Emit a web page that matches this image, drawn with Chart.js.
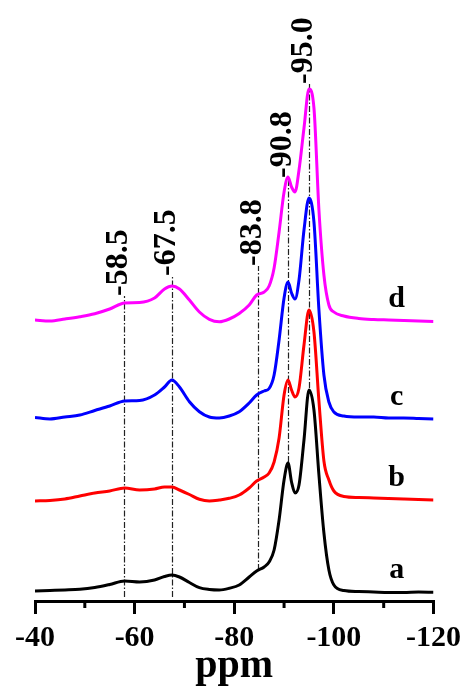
<!DOCTYPE html>
<html>
<head>
<meta charset="utf-8">
<script src="https://cdn.jsdelivr.net/npm/chart.js@4/dist/chart.umd.min.js"></script>
<style>
html, body { margin: 0; padding: 0; background: #fff; }
</style>
</head>
<body>
<canvas id="chart" width="467" height="687"></canvas>
<script>
// chemical shift grid (ppm), shared by all four spectra
const ppm = [-40, -43, -46, -49, -52, -55, -58, -61, -64,
    -66, -67.5, -69, -71, -73, -75, -77, -79, -81, -83,
    -84.5, -86, -87, -88, -89, -90, -90.8, -91.5, -92.2, -93,
    -94, -95, -96, -97, -98, -99, -100,
    -102, -105, -108, -111, -114, -117, -120];

// stacked intensities (arbitrary units, offsets already included)
const specA = [10, 10.5, 11, 11.7, 13.5, 16.5, 20, 19, 21,
    24.5, 26, 24, 18.5, 13.3, 11.5, 11, 12.7, 16, 24,
    30, 34, 39, 51, 81, 121, 138, 119, 108, 116,
    161, 211, 191, 126, 68, 31, 16,
    10.5, 9.5, 9, 8.5, 8.5, 9, 8.7];
const specB = [100, 100.5, 102, 105, 108, 110, 113, 111, 112,
    114, 114, 111, 106.5, 101.7, 100, 101, 102.7, 106, 113,
    120, 124, 128, 139, 163, 206, 221, 211, 204, 213,
    256, 291, 269, 200, 140, 121, 110,
    104.5, 103.5, 103, 102.5, 102, 101.5, 101];
const specC = [183.5, 182, 184, 186, 190.5, 195, 200, 200.5, 206,
    214, 221, 214, 199.3, 189.3, 184, 183, 185, 189.3, 198,
    206, 210, 212.5, 226, 261, 303, 319, 308, 302, 321,
    371, 403, 379, 291, 226, 199, 189,
    185, 184, 184, 183, 183, 182.5, 182];
const specD = [281, 280, 282, 284.3, 287.3, 292, 298, 298.5, 303,
    312, 315, 312, 301, 289, 281.7, 279.3, 282, 287.5, 296,
    306, 309, 315, 333, 369, 409, 424, 414, 409, 431,
    473, 512, 493, 391, 326, 296, 289,
    285, 282.5, 281.5, 281, 280.5, 280, 279.5];

const seriesNames = ['a', 'b', 'c', 'd'];
const seriesColors = ['#000000', '#ff0000', '#0000ff', '#ff00ff'];
const seriesData = [specA, specB, specC, specD];

// assigned peaks: where the guide line sits, its text, and its vertical extent
const peakPos = [-57.9, -67.5, -84.8, -90.8, -95.0];
const peakText = ['-58.5', '-67.5', '-83.8', '-90.8', '-95.0'];
const peakLineFrom = [4, 4, 31, 139, 213];
const peakLineTo = [305, 325, 335, 423, 517];

const minorTicks = [-50, -70, -90, -110];

const serif = '"Liberation Serif", "Times New Roman", serif';

const peakMarks = {
    id: 'peakMarks',
    beforeDatasetsDraw(chart) {
        const {ctx, scales: {x, y}} = chart;
        ctx.save();
        ctx.strokeStyle = '#222';
        ctx.lineWidth = 1.2;
        ctx.setLineDash([6, 2, 1.5, 2]);
        peakPos.forEach((p, i) => {
            const px = Math.round(x.getPixelForValue(p)) + 0.5;
            ctx.beginPath();
            ctx.moveTo(px, y.getPixelForValue(peakLineFrom[i]));
            ctx.lineTo(px, y.getPixelForValue(peakLineTo[i]));
            ctx.stroke();
        });
        ctx.restore();
    },
    afterDatasetsDraw(chart) {
        const {ctx, scales: {x, y}} = chart;
        ctx.save();
        ctx.fillStyle = '#000';
        ctx.font = 'bold 32px ' + serif;
        ctx.textAlign = 'left';
        ctx.textBaseline = 'middle';
        peakPos.forEach((p, i) => {
            ctx.save();
            ctx.translate(x.getPixelForValue(p) - 5, y.getPixelForValue(peakLineTo[i]));
            ctx.rotate(-Math.PI / 2);
            ctx.fillText(peakText[i], 0, 0);
            ctx.restore();
        });
        // series letters at the right end of each trace
        ctx.font = 'bold 30px ' + serif;
        ctx.textAlign = 'center';
        seriesData.forEach((d, i) => {
            const last = d[d.length - 1];
            ctx.fillText(seriesNames[i], x.getPixelForValue(-112.6), y.getPixelForValue(last) - 22);
        });
        ctx.restore();
    },
    afterDraw(chart) {
        const {ctx, scales: {x}} = chart;
        ctx.save();
        ctx.strokeStyle = '#000';
        ctx.lineWidth = 3;
        minorTicks.forEach(v => {
            const px = x.getPixelForValue(v);
            ctx.beginPath();
            ctx.moveTo(px, x.top);
            ctx.lineTo(px, x.top + 7);
            ctx.stroke();
        });
        ctx.restore();
    }
};

const config = {
    type: 'line',
    data: {
        datasets: seriesData.map((d, i) => ({
            label: seriesNames[i],
            data: ppm.map((p, k) => ({x: p, y: d[k]})),
            borderColor: seriesColors[i],
            borderWidth: 3,
            pointRadius: 0,
            fill: false,
            cubicInterpolationMode: 'monotone'
        })).reverse()
    },
    options: {
        responsive: false,
        animation: false,
        devicePixelRatio: 1,
        layout: {padding: {left: 35, right: 33, top: 0, bottom: 0}},
        plugins: {legend: {display: false}, tooltip: {enabled: false}},
        scales: {
            x: {
                type: 'linear',
                min: -120,
                max: -40,
                reverse: true,
                afterFit: s => { s.height = 86; },
                border: {display: true, color: '#000', width: 3},
                grid: {drawOnChartArea: false, color: '#000', lineWidth: 3, tickLength: 13},
                ticks: {
                    stepSize: 20,
                    color: '#000',
                    padding: 6,
                    maxRotation: 0,
                    autoSkip: false,
                    font: {family: serif, weight: 'bold', size: 30}
                },
                title: {
                    display: true,
                    text: 'ppm',
                    color: '#000',
                    padding: {top: 0, bottom: 0},
                    font: {family: serif, weight: 'bold', size: 40, lineHeight: 1}
                }
            },
            y: {display: false, min: 0, max: 601}
        }
    },
    plugins: [peakMarks]
};

new Chart(document.getElementById('chart').getContext('2d'), config);
</script>
</body>
</html>
